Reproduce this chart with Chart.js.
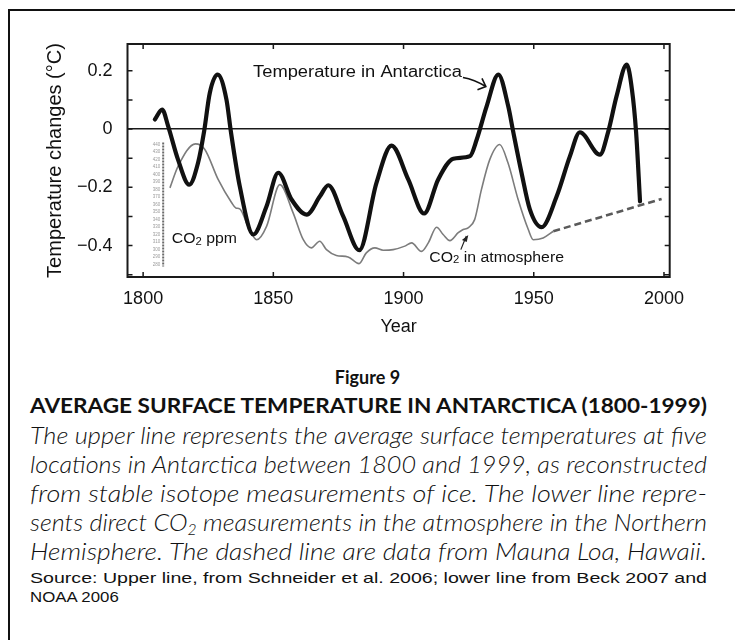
<!DOCTYPE html>
<html><head><meta charset="utf-8">
<script src="https://cdn.jsdelivr.net/npm/chart.js@4.4.1/dist/chart.umd.min.js"></script>
<style>
html,body{margin:0;padding:0;background:#fff;width:735px;height:640px;overflow:hidden;}
#frame{position:absolute;left:8px;top:9px;width:740px;height:660px;border-left:2px solid #111;border-top:2px solid #111;}
#wrap{position:absolute;left:0;top:0;width:735px;height:340px;}
.cap{position:absolute;left:30px;width:677px;white-space:nowrap;color:#111;}
.fit{display:inline-block;transform-origin:0 50%;white-space:nowrap;}
sub{font-size:0.62em;vertical-align:-0.25em;line-height:0;}
#fig{left:0;width:735px;text-align:center;top:366px;line-height:22px;font:bold 18px Lato;}
#ttl{top:393px;line-height:24px;font:bold 20px Lato;}
.it{line-height:26px;font:italic 300 24px Lato;}
.src{line-height:18px;font:15px "Liberation Sans",Arial,sans-serif;}
</style></head>
<body>
<div id="frame"></div>
<div id="wrap"><canvas id="c" width="735" height="340"></canvas></div>
<div class="cap" id="fig">Figure 9</div>
<div class="cap" id="ttl"><span class="fit" data-w="677">AVERAGE SURFACE TEMPERATURE IN ANTARCTICA (1800-1999)</span></div>
<div class="cap it" style="top:420px"><span class="fit" data-w="677">The upper line represents the average surface temperatures at five</span></div>
<div class="cap it" style="top:449px"><span class="fit" data-w="677">locations in Antarctica between 1800 and 1999, as reconstructed</span></div>
<div class="cap it" style="top:478px"><span class="fit" data-w="677">from stable isotope measurements of ice. The lower line repre-</span></div>
<div class="cap it" style="top:507px"><span class="fit" data-w="677">sents direct CO<sub>2</sub> measurements in the atmosphere in the Northern</span></div>
<div class="cap it" style="top:536px"><span class="fit" data-w="677">Hemisphere. The dashed line are data from Mauna Loa, Hawaii.</span></div>
<div class="cap src" style="top:569px"><span class="fit" data-w="677">Source: Upper line, from Schneider et al. 2006; lower line from Beck 2007 and</span></div>
<div class="cap src" style="top:588px"><span class="fit" data-s="1.12">NOAA 2006</span></div>
<script>
// ---- data ----
const tempYears = [1804.5, 1807.3, 1809.6, 1813.4, 1817.7, 1821.1, 1823.4, 1825.6, 1828.6, 1832.0, 1833.7, 1837.1, 1842.3, 1847.4, 1851.9, 1857.0, 1862.8, 1867.9, 1871.1, 1876.8, 1883.0, 1889.6, 1895.4, 1901.8, 1907.9, 1913.3, 1919.1, 1925.5, 1928.1, 1931.9, 1936.4, 1940.2, 1942.1, 1945.3, 1948.5, 1953.0, 1958.8, 1963.9, 1967.7, 1975.4, 1978.6, 1981.8, 1985.7, 1987.7, 1989.3, 1990.8];
const tempValues = [0.033, 0.067, 0.010, -0.105, -0.191, -0.116, -0.009, 0.124, 0.187, 0.101, -0.009, -0.196, -0.362, -0.265, -0.150, -0.242, -0.294, -0.231, -0.193, -0.299, -0.416, -0.185, -0.057, -0.173, -0.290, -0.173, -0.102, -0.093, -0.036, 0.078, 0.187, 0.078, -0.009, -0.150, -0.276, -0.337, -0.231, -0.093, -0.011, -0.088, -0.009, 0.113, 0.221, 0.136, -0.011, -0.248];
const co2Years = [1810.3, 1813.4, 1820.1, 1823.7, 1828.8, 1834.0, 1835.6, 1837.1, 1840.3, 1843.6, 1847.4, 1852.5, 1857.6, 1861.5, 1864.6, 1867.8, 1870.4, 1874.2, 1878.7, 1882.9, 1885.7, 1889.0, 1892.2, 1896.0, 1900.5, 1903.1, 1906.9, 1909.5, 1912.7, 1915.2, 1917.8, 1921.0, 1922.9, 1924.8, 1927.3, 1929.9, 1933.1, 1936.9, 1940.1, 1944.0, 1947.9, 1949.8, 1953.6, 1957.5];
const co2Values = [-0.202, -0.128, -0.051, -0.070, -0.173, -0.253, -0.271, -0.274, -0.334, -0.380, -0.334, -0.191, -0.288, -0.380, -0.408, -0.385, -0.414, -0.434, -0.439, -0.462, -0.425, -0.408, -0.416, -0.414, -0.402, -0.391, -0.420, -0.391, -0.337, -0.362, -0.383, -0.356, -0.345, -0.339, -0.311, -0.208, -0.105, -0.053, -0.116, -0.242, -0.345, -0.380, -0.374, -0.351];
const maunaLoaYears = [1957.5, 1999.1];
const maunaLoaValues = [-0.351, -0.240];
const xTicks = [1800, 1850, 1900, 1950, 2000];
const yTicks = [-0.5, -0.4, -0.3, -0.2, -0.1, 0, 0.1, 0.2];
const yLabelled = [-0.4, -0.2, 0, 0.2];
const co2PpmLabels = ['440','430','420','410','400','390','380','370','360','350','340','330','320','310','300','290','280'];

const pts = (xs, ys) => xs.map((x, i) => ({x, y: ys[i]}));
const FONT = '"Liberation Sans", Arial, sans-serif';

function fitParts(ctx, parts, x0, x1, baseY) {
  let total = 0;
  parts.forEach(p => { ctx.font = p.size + 'px ' + FONT; p.w = ctx.measureText(p.t).width; total += p.w; });
  const s = (x1 - x0) / total;
  ctx.save();
  ctx.translate(x0, baseY);
  ctx.scale(s, 1);
  let cx = 0;
  ctx.textBaseline = 'alphabetic'; ctx.textAlign = 'left'; ctx.fillStyle = '#111';
  parts.forEach(p => { ctx.font = p.size + 'px ' + FONT; ctx.fillText(p.t, cx, p.dy || 0); cx += p.w; });
  ctx.restore();
}

const annot = {
  id: 'annot',
  afterDatasetsDraw(chart) {
    const {ctx, chartArea: a, scales: {x, y}} = chart;
    const px = v => x.getPixelForValue(v), py = v => y.getPixelForValue(v);
    ctx.save();
    ctx.strokeStyle = '#1a1a1a'; ctx.lineWidth = 2;
    ctx.strokeRect(a.left, a.top, a.width, a.height);
    ctx.lineWidth = 1.5; ctx.beginPath();
    yTicks.forEach(v => { const yy = py(v); ctx.moveTo(a.left, yy); ctx.lineTo(a.left + 5, yy); ctx.moveTo(a.right, yy); ctx.lineTo(a.right - 5, yy); });
    xTicks.forEach(v => { const xx = px(v); ctx.moveTo(xx, a.top); ctx.lineTo(xx, a.top + 5); ctx.moveTo(xx, a.bottom); ctx.lineTo(xx, a.bottom - 5); });
    ctx.stroke();

    fitParts(ctx, [{t: 'Temperature in Antarctica', size: 16}], px(1842.2), px(1922.4), py(0.179));
    const ax0 = px(1922.8), ay0 = py(0.177), ax1 = px(1931.6), ay1 = py(0.146);
    ctx.strokeStyle = '#111'; ctx.lineWidth = 1.6; ctx.beginPath();
    ctx.moveTo(ax0, ay0); ctx.quadraticCurveTo((ax0 + ax1) / 2, ay0 + 2, ax1, ay1); ctx.stroke();
    const ang = Math.atan2(ay1 - ay0, ax1 - ax0);
    ctx.beginPath();
    ctx.moveTo(ax1 + 9 * Math.cos(ang + Math.PI - 0.75), ay1 + 9 * Math.sin(ang + Math.PI - 0.75));
    ctx.lineTo(ax1, ay1);
    ctx.lineTo(ax1 + 9 * Math.cos(ang + Math.PI + 0.75), ay1 + 9 * Math.sin(ang + Math.PI + 0.75));
    ctx.stroke();

    const rx = px(1807.7), rt = py(-0.046), rb = py(-0.472);
    ctx.strokeStyle = '#6a6a6a'; ctx.lineWidth = 2; ctx.setLineDash([2, 1]);
    ctx.beginPath(); ctx.moveTo(rx, rt); ctx.lineTo(rx, rb); ctx.stroke();
    ctx.setLineDash([]);
    ctx.fillStyle = '#9a9a9a'; ctx.font = '4.5px ' + FONT; ctx.textAlign = 'right'; ctx.textBaseline = 'middle';
    co2PpmLabels.forEach((t, i) => {
      const yy = rt + 2 + (rb - rt - 4) * i / (co2PpmLabels.length - 1);
      ctx.fillText(t, rx - 3, yy);
    });
    fitParts(ctx, [{t: 'CO', size: 14}, {t: '2', size: 10, dy: 2.5}, {t: ' ppm', size: 14}], px(1811.0), px(1836.0), py(-0.391));

    fitParts(ctx, [{t: 'CO', size: 14}, {t: '2', size: 10, dy: 1}, {t: ' in atmosphere', size: 14}], px(1909.9), px(1961.6), py(-0.457));
    const bx0 = px(1922.0), by0 = py(-0.414), bx1 = px(1924.1), by1 = py(-0.367);
    ctx.strokeStyle = '#222'; ctx.lineWidth = 1.2; ctx.beginPath();
    ctx.moveTo(bx0, by0); ctx.lineTo(bx1, by1); ctx.stroke();
    const bang = Math.atan2(by1 - by0, bx1 - bx0);
    ctx.fillStyle = '#222'; ctx.beginPath();
    ctx.moveTo(bx1 + 2, by1 - 1);
    ctx.lineTo(bx1 + 6 * Math.cos(bang + Math.PI - 0.45), by1 + 6 * Math.sin(bang + Math.PI - 0.45));
    ctx.lineTo(bx1 + 6 * Math.cos(bang + Math.PI + 0.45), by1 + 6 * Math.sin(bang + Math.PI + 0.45));
    ctx.closePath(); ctx.fill();
    ctx.restore();
  }
};

new Chart(document.getElementById('c'), {
  type: 'line',
  data: {
    datasets: [
      {label: 'Temperature in Antarctica', data: pts(tempYears, tempValues), borderColor: '#111', borderWidth: 4.2, pointRadius: 0, cubicInterpolationMode: 'monotone', fill: false, borderCapStyle: 'round', borderJoinStyle: 'round'},
      {label: 'CO2 in atmosphere', data: pts(co2Years, co2Values), borderColor: '#7c7c7c', borderWidth: 1.6, pointRadius: 0, cubicInterpolationMode: 'monotone', fill: false},
      {label: 'Mauna Loa', data: pts(maunaLoaYears, maunaLoaValues), borderColor: '#5a5a5a', borderWidth: 2.6, borderDash: [7, 4], pointRadius: 0, fill: false}
    ]
  },
  options: {
    responsive: false, animation: false, devicePixelRatio: 1,
    layout: {padding: {top: 44, right: 65.3, left: 0, bottom: 0}},
    plugins: {legend: {display: false}, tooltip: {enabled: false}},
    scales: {
      x: {
        type: 'linear', position: 'bottom', min: 1794, max: 2002.2,
        grid: {display: false}, border: {display: false},
        afterBuildTicks: s => { s.ticks = xTicks.map(v => ({value: v})); },
        afterFit: s => { s.height = 63; },
        ticks: {color: '#111', font: {family: FONT, size: 18}, padding: 3, maxRotation: 0, autoSkip: false, callback: v => String(v)},
        title: {display: true, text: 'Year', color: '#111', font: {family: FONT, size: 18}, padding: {top: 0, bottom: 2}}
      },
      y: {
        type: 'linear', min: -0.508, max: 0.292,
        border: {display: false},
        grid: {drawTicks: false, lineWidth: 1.6, color: c => (c.tick && Math.abs(c.tick.value) < 1e-9) ? '#1a1a1a' : 'rgba(0,0,0,0)'},
        afterBuildTicks: s => { s.ticks = yTicks.map(v => ({value: v})); },
        afterFit: s => { s.width = 127.5; },
        ticks: {color: '#111', font: {family: FONT, size: 18}, padding: 15, autoSkip: false,
          callback: v => {
            if (!yLabelled.some(l => Math.abs(l - v) < 1e-9)) return '';
            if (Math.abs(v) < 1e-9) return '0';
            return (v < 0 ? '\u2212' : '') + Math.abs(v).toFixed(1);
          }},
        title: {display: true, text: 'Temperature changes (\u00B0C)', color: '#111', font: {family: FONT, size: 20}, padding: {top: 43, bottom: 0}}
      }
    }
  },
  plugins: [annot]
});

function fitCaptions() {
  document.querySelectorAll('.fit').forEach(el => {
    el.style.transform = '';
    const w = el.getBoundingClientRect().width;
    const s = el.dataset.s ? +el.dataset.s : (+el.dataset.w / w);
    el.style.transform = 'scaleX(' + s + ')';
  });
}
fitCaptions();
if (document.fonts && document.fonts.ready) document.fonts.ready.then(fitCaptions);
</script>
</body></html>
